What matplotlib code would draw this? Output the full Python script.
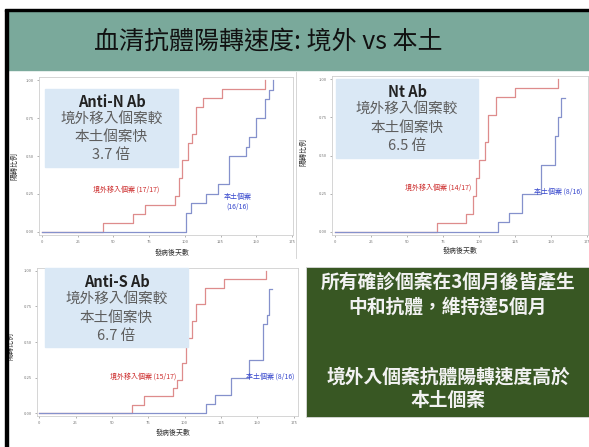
import matplotlib
matplotlib.use('Agg')
import matplotlib.pyplot as plt
from matplotlib.patches import Rectangle

plt.rcParams['font.family'] = ['Noto Sans CJK TC', 'DejaVu Sans']

W, H = 589, 447

title = '血清抗體陽轉速度: 境外 vs 本土'
x_label = '發病後天數'
y_label = '陽轉比例'
x_ticks = [0, 25, 50, 75, 100, 125, 150, 175]
y_ticks = [0.0, 0.25, 0.5, 0.75, 1.0]

# Anti-N Ab (imported 17, local 16)
n_red_days = [0, 43, 64, 72, 93, 96, 98, 102, 105, 108, 113, 126, 156]
n_red_frac = [0, 1/17, 2/17, 3/17, 4/17, 6/17, 8/17, 10/17, 11/17, 14/17, 15/17, 16/17, 1.0]
n_blue_days = [0, 101, 104, 115, 123, 131, 143, 145, 150, 156, 159, 162]
n_blue_frac = [0, 2/16, 3/16, 4/16, 5/16, 8/16, 9/16, 10/16, 12/16, 14/16, 15/16, 1.0]

# Nt Ab
nt_red_days = [0, 71, 91, 96, 98, 100, 104, 106, 112, 125, 155]
nt_red_frac = [0, 1/17, 2/17, 4/17, 6/17, 8/17, 10/17, 13/17, 15/17, 16/17, 1.0]
nt_blue_days = [0, 113, 121, 130, 143, 153, 155, 157, 160]
nt_blue_frac = [0, 1/16, 2/16, 4/16, 7/16, 10/16, 12/16, 14/16, 14/16]

# Anti-S Ab
s_red_days = [0, 64, 72, 92, 95, 98, 101, 105, 108, 114, 127, 156]
s_red_frac = [0, 1/17, 2/17, 3/17, 4/17, 6/17, 9/17, 11/17, 13/17, 15/17, 16/17, 1.0]
s_blue_days = [0, 115, 121, 132, 144, 154, 157, 158, 160]
s_blue_frac = [0, 1/16, 2/16, 4/16, 6/16, 10/16, 11/16, 14/16, 14/16]

red_labels = ['境外移入個案 (17/17)', '境外移入個案 (14/17)', '境外移入個案 (15/17)']
blue_labels = ['本土個案\n(16/16)', '本土個案 (8/16)', '本土個案 (8/16)']
box_titles = ['Anti-N Ab', 'Nt Ab', 'Anti-S Ab']
box_lines = [['境外移入個案較', '本土個案快', '3.7 倍'],
             ['境外移入個案較', '本土個案快', '6.5 倍'],
             ['境外移入個案較', '本土個案快', '6.7 倍']]
summary = ['所有確診個案在3個月後皆產生', '中和抗體，維持達5個月',
           '境外入個案抗體陽轉速度高於', '本土個案']


def rect(x0, y0, x1, y1):
    return [x0 / W, 1 - y1 / H, (x1 - x0) / W, (y1 - y0) / H]


def fx(x):
    return x / W


def fy(y):
    return 1 - y / H


fig = plt.figure(figsize=(W / 100, H / 100), dpi=100)
fig.patch.set_facecolor('white')

# header band and black frame
fig.patches.append(Rectangle((fx(7), fy(70)), fx(589) - fx(7), fy(11) - fy(70),
                             transform=fig.transFigure, color='#7aa99b', zorder=0))
fig.patches.append(Rectangle((fx(5), 0), fx(2.5), fy(9.5), transform=fig.transFigure,
                             color='black', zorder=5))
fig.patches.append(Rectangle((fx(5), fy(11)), 1, fy(9.5) - fy(11), transform=fig.transFigure,
                             color='black', zorder=5))
fig.text(fx(268), fy(41), title, fontsize=18, color='#111111', ha='center', va='center')

# thin frame between the two top pictures
fig.add_artist(plt.Line2D([fx(296), fx(296)], [fy(72), fy(258)], color='#d0d0d0', lw=0.6))

panels = [
    dict(r=(39, 77, 293, 235), xl=(-2.1, 175.7), red=(n_red_days, n_red_frac),
         blue=(n_blue_days, n_blue_frac), xlab=(172, 253), ylab=(14, 166),
         rl=(126, 190), bl=(238, 202), box=(45, 89, 178, 167), by=[102, 120, 137, 155]),
    dict(r=(332, 76, 588, 235), xl=(-2.1, 175.7), red=(nt_red_days, nt_red_frac),
         blue=(nt_blue_days, nt_blue_frac), xlab=(460, 251), ylab=(303, 152),
         rl=(438, 188), bl=(558, 192), box=(336, 79, 478, 158), by=[92, 110, 128, 146]),
    dict(r=(37, 268, 298, 416), xl=(-1.5, 178), red=(s_red_days, s_red_frac),
         blue=(s_blue_days, s_blue_frac), xlab=(173, 433), ylab=(10, 346),
         rl=(143, 377), bl=(270, 377), box=(45, 268, 188, 347), by=[282, 300, 318, 336]),
]

for i, p in enumerate(panels):
    ax = fig.add_axes(rect(*p['r']))
    ax.step(p['red'][0], p['red'][1], where='post', color='#de8c8c', lw=0.9)
    ax.step(p['blue'][0], p['blue'][1], where='post', color='#8591cc', lw=0.9)
    ax.set_xlim(*p['xl'])
    ax.set_ylim(-0.02, 1.02)
    ax.set_xticks(x_ticks)
    ax.set_yticks(y_ticks)
    ax.set_yticklabels(['%.2f' % v for v in y_ticks])
    ax.tick_params(labelsize=3, colors='#777777', length=1.5, width=0.4, pad=2)
    for s in ax.spines.values():
        s.set_color('#cfcfcf')
        s.set_linewidth(0.6)
    fig.text(fx(p['xlab'][0]), fy(p['xlab'][1]), x_label, fontsize=5, color='#333333',
             ha='center', va='center')
    fig.text(fx(p['ylab'][0]), fy(p['ylab'][1]), y_label, fontsize=5, color='#333333',
             ha='center', va='center', rotation=90)
    fig.text(fx(p['rl'][0]), fy(p['rl'][1]), red_labels[i], fontsize=5, color='#cc2a2a',
             ha='center', va='center')
    fig.text(fx(p['bl'][0]), fy(p['bl'][1]), blue_labels[i], fontsize=5, color='#3344cc',
             ha='center', va='center', linespacing=1.2)
    bx0, by0, bx1, by1 = p['box']
    fig.patches.append(Rectangle((fx(bx0), fy(by1)), fx(bx1) - fx(bx0), fy(by0) - fy(by1),
                                 transform=fig.transFigure, color='#dae8f5', zorder=2))
    cx = (bx0 + bx1) / 2
    fig.text(fx(cx), fy(p['by'][0]), box_titles[i], fontsize=10.5, fontweight='bold',
             color='#222222', ha='center', va='center', zorder=3)
    for line, yy in zip(box_lines[i], p['by'][1:]):
        fig.text(fx(cx), fy(yy), line, fontsize=10.5, color='#5e5e5e',
                 ha='center', va='center', zorder=3)

# summary box
fig.patches.append(Rectangle((fx(306), fy(417)), fx(589) - fx(306), fy(267) - fy(417),
                             transform=fig.transFigure, facecolor='#385723',
                             edgecolor='#d9d9d9', lw=0.6, zorder=2))
for line, yy in zip(summary, [283, 307, 377, 400]):
    fig.text(fx(448), fy(yy), line, fontsize=13.5, fontweight='bold', color='#f2f2f2',
             ha='center', va='center', zorder=3)

fig.savefig('out.png', dpi=100)
